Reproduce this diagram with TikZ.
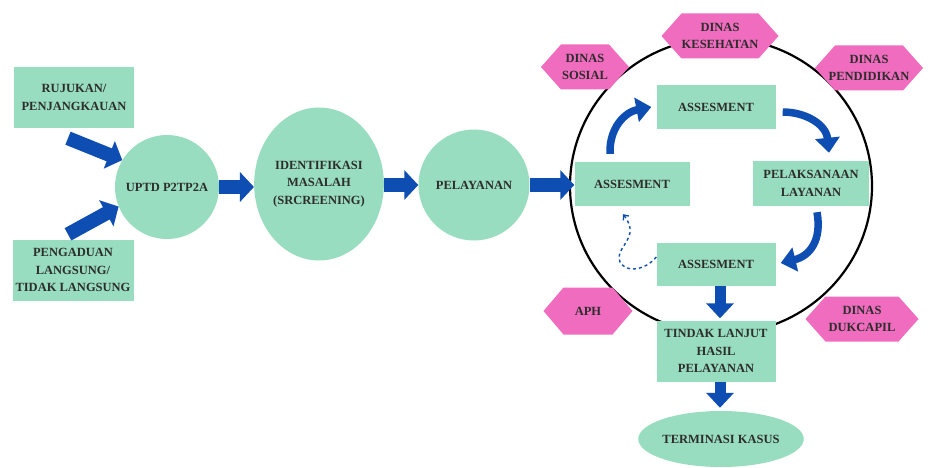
\documentclass[tikz,border=0pt]{standalone}
\usepackage{fontspec}
\setmainfont{Liberation Serif}
\usetikzlibrary{arrows.meta,shapes.geometric,calc}
\definecolor{mint}{RGB}{152,221,191}
\definecolor{hotpink}{RGB}{240,108,190}
\definecolor{flowblue}{RGB}{14,78,178}
\definecolor{inktext}{RGB}{45,45,45}
\tikzset{
  txt/.style={font=\fontsize{12.5}{17.5}\selectfont\bfseries, text=inktext, align=center, inner sep=0pt},
  box/.style={txt, rectangle, fill=mint},
  roundnode/.style={txt, circle, fill=mint},
  ovalnode/.style={txt, ellipse, fill=mint},
  hexfill/.style={fill=hotpink},
  blk/.style={draw=flowblue, line width=14pt, -{Triangle[length=14pt,width=29pt]}, flowblue},
  vblk/.style={draw=flowblue, line width=11pt, -{Triangle[length=15pt,width=27pt]}, flowblue},
  curv/.style={draw=flowblue, line width=7.5pt, -{Triangle[length=15pt,width=24pt]}, flowblue},
  dasharrow/.style={draw=flowblue, line width=1.4pt, dash pattern=on 3pt off 3pt, -{Straight Barb[length=4pt,width=7pt]}}
}
\newcommand\hexagonnode[6]{%
  \fill[hexfill] ({#2-#4/2},#3) -- ({#2-#4/2+20},{#3-#5/2}) -- ({#2+#4/2-20},{#3-#5/2}) -- ({#2+#4/2},#3) -- ({#2+#4/2-20},{#3+#5/2}) -- ({#2-#4/2+20},{#3+#5/2}) -- cycle;
  \node[txt] (#1) at (#2,#3) {#6};}
\begin{document}
\begin{tikzpicture}[x=1pt,y=-1pt]
\useasboundingbox[fill=white] (0,0) rectangle (928,468);
% big ring
\draw[line width=2.2pt] (721,186) ellipse [x radius=151, y radius=148];
% hexagons
\hexagonnode{kes}{720}{36}{117}{45}{DINAS\\KESEHATAN}
\hexagonnode{sos}{585}{67}{88}{45}{DINAS\\SOSIAL}
\hexagonnode{pend}{869}{68}{108}{45}{DINAS\\PENDIDIKAN}
\hexagonnode{aph}{588}{311}{89}{47}{APH}
\hexagonnode{duk}{862}{319}{113}{45}{DINAS\\DUKCAPIL}
% left part
\node[box, minimum width=120, minimum height=61] (ruj) at (74,97.5) {RUJUKAN/\\PENJANGKAUAN};
\node[box, minimum width=121, minimum height=61] (peng) at (73,270) {PENGADUAN\\LANGSUNG/\\TIDAK LANGSUNG};
\node[roundnode, minimum size=104] (uptd) at (167,187) {UPTD P2TP2A};
\node[ovalnode, minimum width=116, minimum height=153] (ident) at (319,184) {IDENTIFIKASI\\MASALAH\\(SRCREENING)};
\node[roundnode, minimum size=111] (pelay) at (474,185) {PELAYANAN};
% inner boxes
\node[box, minimum width=115, minimum height=44] (asl) at (632,184) {ASSESMENT};
\node[box, minimum width=119, minimum height=44] (ast) at (716,107) {ASSESMENT};
\node[box, minimum width=116, minimum height=45] (pel) at (811,183.5) {PELAKSANAAN\\LAYANAN};
\node[box, minimum width=119, minimum height=43] (asb) at (716,264) {ASSESMENT};
\node[box, minimum width=119, minimum height=61] (tindak) at (716,351) {TINDAK LANJUT\\HASIL\\PELAYANAN};
\node[ovalnode, minimum width=154, minimum height=56] (term) at (721,439) {TERMINASI KASUS};
% block arrows
\draw[blk] ($(ruj.south)+(-6,10)$) -- (uptd.149);
\draw[blk] ($(peng.north)+(-5,-5)$) -- (uptd.202);
\draw[blk] (uptd.east) -- (uptd.east -| ident.west);
\draw[blk] (ident.east |- pelay.west) -- (pelay.west);
\draw[blk] (pelay.east) -- (pelay.east -| asl.west);
\coordinate (va) at ($(asb.south)+(4,0)$);
\coordinate (vb) at ($(tindak.north)+(4,-2)$);
\coordinate (vc) at ($(tindak.south)+(4,0)$);
\coordinate (vd) at ($(term.north)+(0,-3)$);
\draw[vblk] (va) -- (vb);
\draw[vblk] (vc) -- (vc |- vd);
% curved arrows
\draw[curv] ($(asl.north)+(-22,-8)$) .. controls (609,128) and (625,112) .. ($(ast.west)+(-5,0)$);
\draw[curv] ($(ast.east)+(7,5)$) .. controls (805,112) and (826,124) .. ($(pel.north)+(18,-8)$);
\draw[curv] ($(pel.south)+(6,6)$) .. controls (822,240) and (810,256) .. ($(asb.east)+(5,-1)$);
% dashed return arrow
\draw[dasharrow] (asb.west |- 0,257) .. controls (648,268) and (628,275) .. (620,262) .. controls (615,250) and (632,242) .. (630,228) .. controls (629,222) and (626,218) .. ($(asl.south)+(-9,8)$);
\end{tikzpicture}
\end{document}
